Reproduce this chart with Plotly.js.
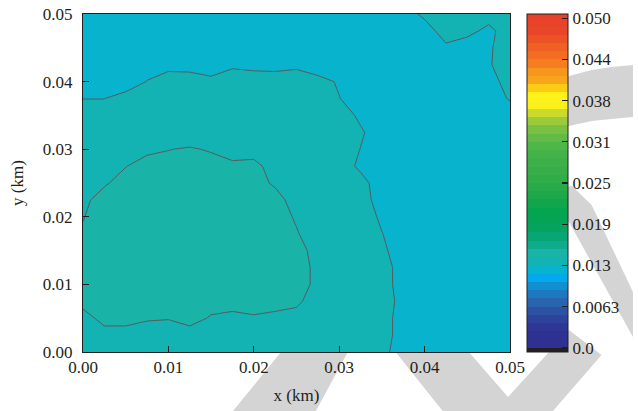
<!DOCTYPE html>
<html>
<head>
<meta charset="utf-8">
<script src="https://cdn.plot.ly/plotly-3.0.1.min.js"></script>
<style>html,body{margin:0;padding:0;background:#fff;}#chart{width:638px;height:411px;}</style>
</head>
<body>
<div id="chart"></div>
<script>
// grid coordinates (km)
var xKm = [0,0.0025,0.005,0.0075,0.01,0.0125,0.015,0.0175,0.02,0.0225,0.025,0.0275,0.03,0.0325,0.035,0.0375,0.04,0.0425,0.045,0.0475,0.05];
var yKm = [0,0.0025,0.005,0.0075,0.01,0.0125,0.015,0.0175,0.02,0.0225,0.025,0.0275,0.03,0.0325,0.035,0.0375,0.04,0.0425,0.045,0.0475,0.05];

// field values, one row per y (bottom to top)
var z00 = [0.0131,0.0131,0.0131,0.0131,0.0131,0.0131,0.0131,0.0131,0.0131,0.0131,0.0131,0.0131,0.0131,0.0131,0.01284,0.0119,0.0119,0.0119,0.0119,0.0119,0.0119];
var z01 = [0.0131,0.0131,0.0131,0.0131,0.0131,0.0131,0.0131,0.0131,0.0131,0.0131,0.0131,0.0131,0.0131,0.0131,0.0131,0.0119,0.0119,0.0119,0.0119,0.0119,0.0119];
var z02 = [0.0131,0.0143,0.0143,0.01388,0.01381,0.0143,0.01361,0.01338,0.01361,0.01338,0.0131,0.0131,0.0131,0.0131,0.0131,0.0119,0.0119,0.0119,0.0119,0.0119,0.0119];
var z03 = [0.0143,0.0143,0.0143,0.0143,0.0143,0.0143,0.0143,0.0143,0.0143,0.0143,0.01412,0.0128,0.0131,0.0131,0.0134,0.0119,0.0119,0.0119,0.0119,0.0119,0.0119];
var z04 = [0.0143,0.0143,0.0143,0.0143,0.0143,0.0143,0.0143,0.0143,0.0143,0.0143,0.0143,0.01344,0.0131,0.0131,0.0131,0.0119,0.0119,0.0119,0.0119,0.0119,0.0119];
var z05 = [0.0143,0.0143,0.0143,0.0143,0.0143,0.0143,0.0143,0.0143,0.0143,0.0143,0.0143,0.01344,0.0131,0.0131,0.0131,0.0119,0.0119,0.0119,0.0119,0.0119,0.0119];
var z06 = [0.0143,0.0143,0.0143,0.0143,0.0143,0.0143,0.0143,0.0143,0.0143,0.0143,0.0143,0.0132,0.0131,0.0131,0.01273,0.0119,0.0119,0.0119,0.0119,0.0119,0.0119];
var z07 = [0.01388,0.0143,0.0143,0.0143,0.0143,0.0143,0.0143,0.0143,0.0143,0.0143,0.01384,0.0131,0.0131,0.0131,0.01253,0.0119,0.0119,0.0119,0.0119,0.0119,0.0119];
var z08 = [0.0137,0.0143,0.0143,0.0143,0.0143,0.0143,0.0143,0.0143,0.0143,0.0143,0.01361,0.0131,0.0131,0.0131,0.01231,0.0119,0.0119,0.0119,0.0119,0.0119,0.0119];
var z09 = [0.01344,0.0143,0.0143,0.0143,0.0143,0.0143,0.0143,0.0143,0.0143,0.0143,0.0131,0.0131,0.0131,0.0131,0.0119,0.0119,0.0119,0.0119,0.0119,0.0119,0.0119];
var z10 = [0.0131,0.01358,0.0143,0.0143,0.0143,0.0143,0.0143,0.0143,0.0143,0.01354,0.0131,0.0131,0.0131,0.0129,0.0119,0.0119,0.0119,0.0119,0.0119,0.0119,0.0119];
var z11 = [0.0131,0.0131,0.0137,0.0143,0.0143,0.0143,0.0143,0.0143,0.0143,0.01293,0.0131,0.0131,0.0131,0.01227,0.0119,0.0119,0.0119,0.0119,0.0119,0.0119,0.0119];
var z12 = [0.0131,0.0131,0.0131,0.01344,0.0137,0.0139,0.01361,0.0126,0.01293,0.0131,0.0131,0.0131,0.0131,0.01248,0.0119,0.0119,0.0119,0.0119,0.0119,0.0119,0.0119];
var z13 = [0.0131,0.0131,0.0131,0.0131,0.0131,0.0127,0.0131,0.0131,0.0131,0.0131,0.0131,0.0131,0.0131,0.01265,0.0119,0.0119,0.0119,0.0119,0.0119,0.0119,0.0119];
var z14 = [0.0131,0.0131,0.0131,0.0131,0.0131,0.0131,0.0131,0.0131,0.0131,0.0131,0.0131,0.0131,0.0131,0.01227,0.0119,0.0119,0.0119,0.0119,0.0119,0.0119,0.0119];
var z15 = [0.01248,0.01248,0.0131,0.0131,0.0131,0.0131,0.0131,0.0131,0.0131,0.0131,0.0131,0.0131,0.01253,0.0119,0.0119,0.0119,0.0119,0.0119,0.0119,0.0119,0.01261];
var z16 = [0.0119,0.0119,0.0116,0.01255,0.0131,0.0131,0.01278,0.0131,0.0131,0.0131,0.0131,0.01284,0.01239,0.0119,0.0119,0.0119,0.0119,0.0119,0.0119,0.0119,0.0131];
var z17 = [0.0119,0.0119,0.0119,0.0119,0.0121,0.01203,0.0119,0.01231,0.01216,0.0121,0.01227,0.0119,0.0119,0.0119,0.0119,0.0119,0.0119,0.0119,0.0119,0.01239,0.0131];
var z18 = [0.0119,0.0119,0.0119,0.0119,0.0119,0.0119,0.0119,0.0119,0.0119,0.0119,0.0119,0.0119,0.0119,0.0119,0.0119,0.0119,0.0119,0.01227,0.0119,0.01235,0.0131];
var z19 = [0.0119,0.0119,0.0119,0.0119,0.0119,0.0119,0.0119,0.0119,0.0119,0.0119,0.0119,0.0119,0.0119,0.0119,0.0119,0.0119,0.0119,0.0131,0.01284,0.0122,0.0131];
var z20 = [0.0119,0.0119,0.0119,0.0119,0.0119,0.0119,0.0119,0.0119,0.0119,0.0119,0.0119,0.0119,0.0119,0.0119,0.0119,0.0119,0.01278,0.0131,0.0131,0.0130,0.0131];

// colour bar ticks
var cbTickVals = [0, 0.00625, 0.0125, 0.01875, 0.025, 0.03125, 0.0375, 0.04375, 0.05];
var cbTickText = ['0.0', '0.0063', '0.013', '0.019', '0.025', '0.031', '0.038', '0.044', '0.050'];
var axisTickVals = [0, 0.01, 0.02, 0.03, 0.04, 0.05];

// colour scale stops (value, colour)
var csValues = [-0.000625,-0.0001,0.0001,0.0025,0.004,0.0055,0.0068,0.008,0.0095,0.0108,0.011875,0.013125,0.014375,0.016,0.018,0.0205,0.0228,0.026,0.030,0.0325,0.034,0.035,0.036,0.037,0.0385,0.0395,0.0405,0.042,0.0438,0.046,0.0481,0.050625];
var csColors = ['#231f20','#231f20','#2e3192','#2e3192','#2e409a','#2d50a2','#2a64ae','#1d76bd','#1091d2','#00aeef','#08b4cd','#13b3b3','#19b4a7','#0ca886','#05a35f','#03a54f','#1aa74a','#33ad49','#45b349','#6cbd45','#8dc63f','#b3d335','#d7df27','#fff21a','#fff21a','#fcc512','#f9a61b','#f7941d','#f37321','#ef5b25','#e9452a','#e8412a'];

var z = [z00,z01,z02,z03,z04,z05,z06,z07,z08,z09,z10,z11,z12,z13,z14,z15,z16,z17,z18,z19,z20];
var cStart = 0, cEnd = 0.05, cSize = 0.00125;
var lo = cStart - cSize / 2, hi = cEnd + cSize / 2;
var colorscale = csValues.map(function (v, k) { return [(v - lo) / (hi - lo), csColors[k]]; });

var FONT = 'Liberation Serif';
var INK = '#231f20';

// page geometry helpers (pixels -> paper)
var L = 83, R = 517, T = 14, B = 352;
function P(px, py) { return ((px - L) / (R - L)).toFixed(4) + ',' + ((B - py) / (B - T)).toFixed(4); }
function poly(pts) { return 'M' + pts.map(function (p) { return P(p[0], p[1]); }).join('L') + 'Z'; }
var wm = '#d4d4d4';
var shapes = [
  [[560,95],[577,76],[600,70],[620,67],[642,65],[642,117],[620,119],[600,121],[577,126],[560,132]],
  [[560,190],[580,186],[600,205],[642,292],[642,337],[577,222],[560,215]],
  [[395,345],[469,345],[515,397],[577,330],[610,355],[558,414],[451,414]],
  [[290,345],[356,345],[318,414],[233,414]]
].map(function (pts) {
  return {type: 'path', xref: 'paper', yref: 'paper', path: poly(pts), fillcolor: wm, line: {width: 0}, layer: 'below'};
});

var fillTrace = {
  type: 'contour', x: xKm, y: yKm, z: z,
  autocontour: false,
  contours: {coloring: 'fill', start: cStart, end: cEnd, size: cSize, showlines: false},
  line: {width: 0, smoothing: 0},
  colorscale: colorscale,
  showscale: true,
  hoverinfo: 'skip',
  colorbar: {
    thickness: 41, thicknessmode: 'pixels', len: 338, lenmode: 'pixels',
    x: (534 - L) / (R - L), xanchor: 'left', xpad: 0,
    y: 0.5, yanchor: 'middle', ypad: 0,
    outlinewidth: 1, outlinecolor: INK,
    ticks: 'inside', ticklen: 6, tickwidth: 1.2, tickcolor: INK,
    tickmode: 'array', tickvals: cbTickVals, ticktext: cbTickText,
    tickfont: {family: FONT, size: 17, color: INK}
  }
};
var lineTrace = {
  type: 'contour', x: xKm, y: yKm, z: z,
  autocontour: false,
  contours: {coloring: 'none', start: cStart, end: cEnd, size: cSize, showlines: true},
  line: {color: '#58585b', width: 1, smoothing: 0},
  showscale: false,
  hoverinfo: 'skip'
};

var axisCommon = {
  range: [0, 0.05], tickmode: 'array', tickvals: axisTickVals, tickformat: '.2f',
  ticks: 'inside', ticklen: 6, tickwidth: 1, tickcolor: INK,
  showline: true, linecolor: INK, linewidth: 1, mirror: true,
  showgrid: false, zeroline: false,
  tickfont: {family: FONT, size: 17, color: INK}
};

var layout = {
  width: 638, height: 411,
  font: {family: FONT, size: 17, color: INK},
  margin: {l: L, r: 638 - R, t: T, b: 411 - B, pad: 0},
  paper_bgcolor: '#ffffff', plot_bgcolor: '#ffffff',
  showlegend: false,
  shapes: shapes,
  xaxis: Object.assign({}, axisCommon, {title: {text: 'x (km)', font: {family: FONT, size: 17, color: INK}, standoff: 12}}),
  yaxis: Object.assign({}, axisCommon, {ticklabelstandoff: 6, title: {text: 'y (km)', font: {family: FONT, size: 17, color: INK}, standoff: 14}})
};

Plotly.newPlot('chart', [fillTrace, lineTrace], layout, {staticPlot: true, displayModeBar: false});
</script>
</body>
</html>
